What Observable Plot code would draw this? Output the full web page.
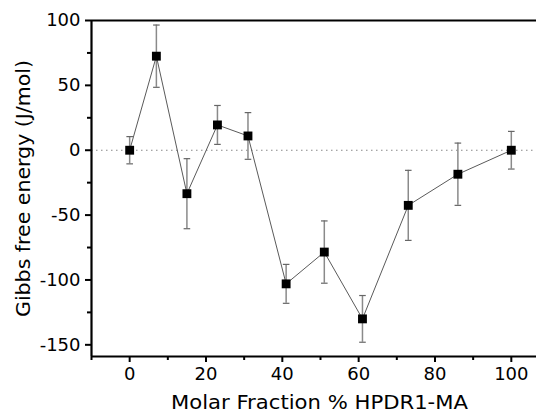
<!DOCTYPE html>
<html>
<head>
<meta charset="utf-8">
<script src="https://cdn.jsdelivr.net/npm/d3@7"></script>
<script src="https://cdn.jsdelivr.net/npm/@observablehq/plot@0.6"></script>
<style>
  html, body { margin: 0; padding: 0; background: #fff; }
  svg { display: block; }
</style>
</head>
<body>
<div id="chart"></div>
<script>
// Data
const molarFraction = [0, 7, 15, 23, 31, 41, 51, 61, 73, 86, 100];
const gibbs =        [0, 72.5, -33.5, 19.5, 11, -103, -78.5, -130, -42.5, -18.5, 0];
const gibbsErr =     [10.5, 24, 27, 15, 18, 15, 24, 18, 27, 24, 14.5];

const xMajorTicks = [0, 20, 40, 60, 80, 100];
const xMinorTicks = [-10, 10, 30, 50, 70, 90];
const yMajorTicks = [-150, -100, -50, 0, 50, 100];
const yMinorTicks = [-125, -75, -25, 25, 75];
const xDomain = [-10, 106.6];
const yDomain = [-159, 100];
const xLabel = "Molar Fraction % HPDR1-MA";
const yLabel = "Gibbs free energy (J/mol)";

const data = molarFraction.map((x, i) => ({x, y: gibbs[i], err: gibbsErr[i]}));

const capSymbol = {
  draw(ctx, size) {
    const r = Math.sqrt(size / Math.PI);
    ctx.moveTo(-r, 0);
    ctx.lineTo(r, 0);
  }
};

const font = "DejaVu Sans";
const fs = 18;
const titleFs = 19;

const chart = Plot.plot({
  width: 536,
  height: 413,
  marginLeft: 91,
  marginRight: 0,
  marginTop: 20,
  marginBottom: 57,
  style: {fontFamily: font, fontSize: fs + "px", color: "#000", background: "#fff"},
  x: {domain: xDomain},
  y: {domain: yDomain},
  marks: [
    // zero reference line
    Plot.ruleY([0], {stroke: "#888", strokeWidth: 1.2, strokeDasharray: "1.5,3.5"}),
    // error bars
    Plot.ruleX(data, {x: "x", y1: d => d.y - d.err, y2: d => d.y + d.err, stroke: "#8a8a8a", strokeWidth: 1.5}),
    Plot.dot(data, {x: "x", y: d => d.y + d.err, symbol: capSymbol, r: 3.3, stroke: "#666", strokeWidth: 1.2}),
    Plot.dot(data, {x: "x", y: d => d.y - d.err, symbol: capSymbol, r: 3.3, stroke: "#666", strokeWidth: 1.2}),
    // connecting line
    Plot.line(data, {x: "x", y: "y", stroke: "#5a5a5a", strokeWidth: 1}),
    // markers
    Plot.dot(data, {x: "x", y: "y", symbol: "square", r: 5, fill: "#000", stroke: "none"}),
    // axes
    Plot.axisX({ticks: xMajorTicks, tickSize: 6, tickPadding: 5, strokeWidth: 2, label: null, fontSize: fs, tickFormat: d => String(d)}),
    Plot.axisX({ticks: xMinorTicks, tickSize: 4, strokeWidth: 2, label: null, tickFormat: () => ""}),
    Plot.axisY({ticks: yMajorTicks, tickSize: 6, tickPadding: 5, strokeWidth: 2, label: null, fontSize: fs, tickFormat: d => String(d)}),
    Plot.axisY({ticks: yMinorTicks, tickSize: 4, strokeWidth: 2, label: null, tickFormat: () => ""}),
    // frame lines
    Plot.ruleX([xDomain[0]], {stroke: "#000", strokeWidth: 2.2}),
    Plot.ruleY([yDomain[0], yDomain[1]], {stroke: "#000", strokeWidth: 2.2}),
    // axis titles
    Plot.text([xLabel], {frameAnchor: "bottom", dy: 46, dx: 5.5, fontSize: titleFs, fill: "#000", textAnchor: "middle", lineAnchor: "middle"}),
    Plot.text([yLabel], {frameAnchor: "left", dx: -68, rotate: -90, fontSize: titleFs, fill: "#000", textAnchor: "middle", lineAnchor: "middle"})
  ]
});

// stretch the axis titles horizontally to match the reference's wide lettering
const titleLengths = {[xLabel]: 297, [yLabel]: 257};
chart.querySelectorAll("text").forEach(t => {
  const len = titleLengths[t.textContent];
  if (len) {
    t.setAttribute("textLength", len);
    t.setAttribute("lengthAdjust", "spacingAndGlyphs");
  }
});
document.getElementById("chart").appendChild(chart);
</script>
</body>
</html>
